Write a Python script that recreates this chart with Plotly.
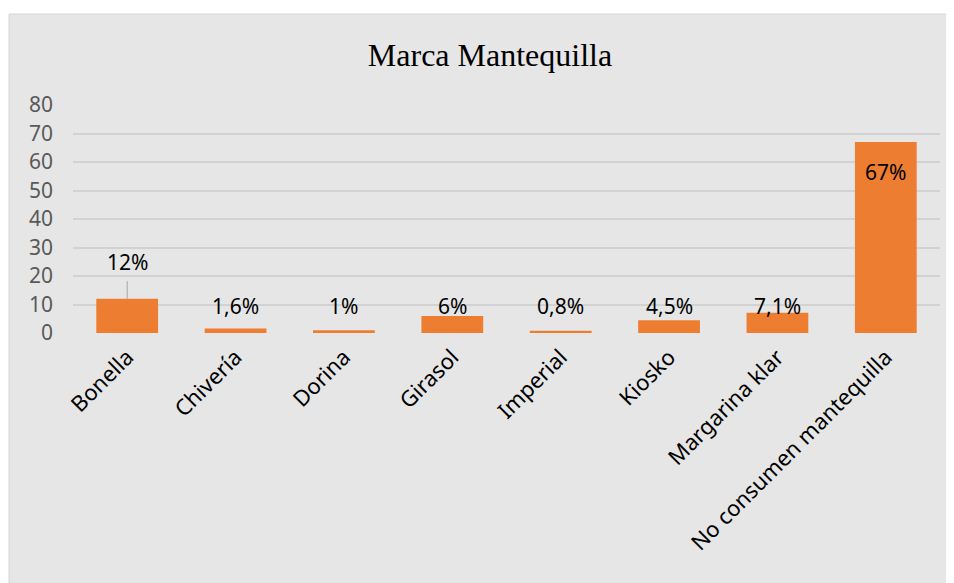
import plotly.graph_objects as go

# data
categories = ["Bonella", "Chivería", "Dorina", "Girasol", "Imperial", "Kiosko",
              "Margarina klar", "No consumen mantequilla"]
values = [12, 1.6, 1, 6, 0.8, 4.5, 7.1, 67]
y_ticks = [0, 10, 20, 30, 40, 50, 60, 70, 80]

# page body has an 8px margin, so the figure is sized to fit the rest
OFF = 8
W, H = 954 - OFF, 583 - OFF
L, R, T = 73 - OFF, 14, 105 - OFF
B = H - (333 - OFF)
ORANGE = "#ED7D31"
GRAY_BG = "#e6e6e6"
FONT = "Noto Sans"


def pct_label(v):
    # excel style, comma decimal
    return f"{v:g}".replace(".", ",") + "%"


def label_y(v, i):
    # labels sit on a common line, the big bar gets its label inside,
    # Bonella's label was dragged up with a leader line
    if v == max(values):
        return v - 10.5
    if i == 0:
        return v + 12.9
    return 9.5


fig = go.Figure()
fig.add_trace(go.Bar(
    x=categories, y=values,
    marker=dict(color=ORANGE, line=dict(width=0)),
    width=0.57, hoverinfo="x+y", showlegend=False,
))

# leader line for the first label
fig.add_trace(go.Scatter(
    x=[categories[0], categories[0]], y=[values[0], values[0] + 6.2],
    mode="lines", line=dict(color="#a6a6a6", width=1),
    hoverinfo="skip", showlegend=False,
))

for i, (c, v) in enumerate(zip(categories, values)):
    fig.add_annotation(
        x=c, y=label_y(v, i), text=pct_label(v), showarrow=False,
        xanchor="center", yanchor="middle",
        font=dict(family=FONT, size=21, color="#000000"),
    )

# white page strips above and left of the chart box, box border
pw, ph = W - L - R, H - T - B
top_y = (H - B - (14 - OFF)) / ph
left_x = (9 - OFF - L) / pw
fig.add_shape(type="rect", xref="paper", yref="paper", layer="below",
              x0=-1, x1=2, y0=top_y, y1=3, fillcolor="white", line_width=0)
fig.add_shape(type="rect", xref="paper", yref="paper", layer="below",
              x0=-1, x1=left_x, y0=-3, y1=3, fillcolor="white", line_width=0)
fig.add_shape(
    type="rect", xref="paper", yref="paper", layer="below",
    x0=left_x, x1=(W + 2 - L) / pw, y0=-3, y1=top_y,
    fillcolor="rgba(0,0,0,0)", line=dict(color="#d6d6d6", width=1),
)

fig.update_layout(
    width=W, height=H,
    margin=dict(l=L, r=R, t=T, b=B),
    paper_bgcolor=GRAY_BG,
    plot_bgcolor="rgba(0,0,0,0)",
    title=dict(
        text="Marca Mantequilla", x=(490 - OFF) / W, xanchor="center",
        y=1 - (55 - OFF) / H, yanchor="middle", yref="container",
        font=dict(family="Liberation Serif", size=32, color="#000000"),
    ),
    bargap=0.43,
    xaxis=dict(
        type="category", tickangle=-45, showgrid=False, zeroline=False,
        showline=False, ticks="", ticklabelstandoff=6,
        tickfont=dict(family=FONT, size=22, color="#000000"),
    ),
    yaxis=dict(
        range=[0, 80], tickvals=y_ticks, showgrid=True,
        gridcolor="#d2d2d2", gridwidth=1.5, zeroline=False,
        showline=False, ticks="", ticklabelstandoff=19,
        tickfont=dict(family=FONT, size=21, color="#595959"),
    ),
)

fig.write_html("out.html")
